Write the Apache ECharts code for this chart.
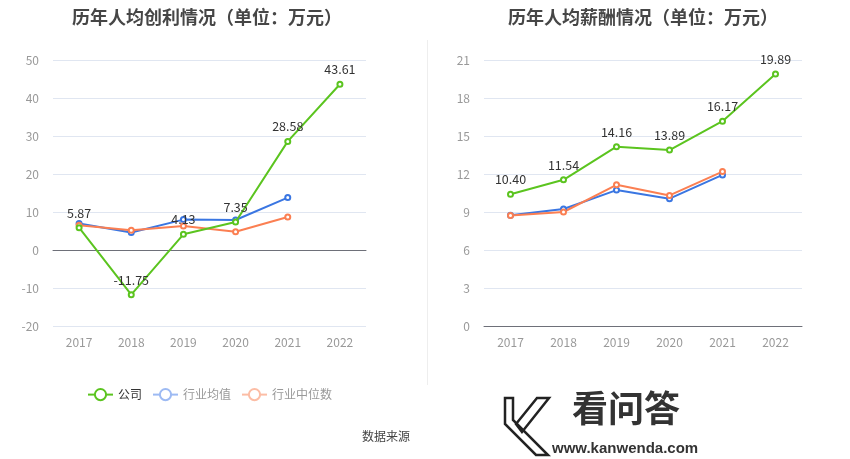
<!DOCTYPE html>
<html><head><meta charset="utf-8">
<script src="https://cdn.jsdelivr.net/npm/echarts@6/dist/echarts.min.js"></script>
<style>html,body{margin:0;padding:0;background:#fff}#c{width:850px;height:459px}</style>
</head><body><div id="c"></div>
<script>
var years = ['2017','2018','2019','2020','2021','2022'];
var profitCompany = [5.87, -11.75, 4.13, 7.35, 28.58, 43.61];
var profitIndAvg = [7.0, 4.6, 8.0, 7.9, 13.8];
var profitIndMed = [6.5, 5.2, 6.3, 4.8, 8.7];
var salaryCompany = [10.40, 11.54, 14.16, 13.89, 16.17, 19.89];
var salaryIndAvg = [8.75, 9.24, 10.73, 10.05, 11.93];
var salaryIndMed = [8.72, 9.00, 11.15, 10.31, 12.19];
var names = ['公司', '行业均值', '行业中位数'];

var FONT = '"Noto Sans CJK SC", "Noto Sans", sans-serif';
var GREEN = '#5bc41f', BLUE = '#3a76e2', ORANGE = '#fb7f52';

function line(name, data, color, xi, withLabel) {
  return {
    name: name, type: 'line', xAxisIndex: xi, yAxisIndex: xi, data: data,
    symbol: 'emptyCircle', symbolSize: 5, z: withLabel ? 3 : 2,
    lineStyle: {color: color, width: 2}, itemStyle: {color: color, borderWidth: 2},
    label: withLabel ? {show: true, position: 'top', color: '#333', fontSize: 12.5, fontFamily: FONT,
      formatter: function(p){ return p.value.toFixed(2); }} : {show: false},
    animation: false
  };
}
function xAx(gi) {
  return {type: 'category', gridIndex: gi, data: years, boundaryGap: true,
    axisLine: {lineStyle: {color: '#6e7079'}}, axisTick: {alignWithLabel: true, lineStyle: {color: '#6e7079'}},
    axisLabel: {color: '#999', fontSize: 12, fontFamily: FONT, margin: 10}};
}
function yAx(gi, min, max, itv) {
  return {type: 'value', gridIndex: gi, min: min, max: max, interval: itv,
    axisLine: {show: false}, axisTick: {show: false},
    splitLine: {lineStyle: {color: '#e0e6f1'}},
    axisLabel: {color: '#999', fontSize: 12, fontFamily: FONT, margin: 14}};
}
var chart = echarts.init(document.getElementById('c'), null, {renderer: 'canvas'});
chart.setOption({
  animation: false,
  title: [
    {text: '历年人均创利情况（单位：万元）', left: 202, top: 3, textAlign: 'center',
      textStyle: {fontSize: 18, fontWeight: 'bold', color: '#464646', fontFamily: FONT}},
    {text: '历年人均薪酬情况（单位：万元）', left: 638, top: 3, textAlign: 'center',
      textStyle: {fontSize: 18, fontWeight: 'bold', color: '#464646', fontFamily: FONT}}
  ],
  legend: {
    left: 82, top: 383, itemWidth: 25, itemHeight: 14, itemGap: 10,
    textStyle: {fontSize: 12, fontFamily: FONT},
    data: [
      {name: names[0], textStyle: {color: '#333'}},
      {name: names[1], textStyle: {color: '#999'}, itemStyle: {color: '#9dbaf3', borderColor: '#9dbaf3'}, lineStyle: {color: '#9dbaf3'}},
      {name: names[2], textStyle: {color: '#999'}, itemStyle: {color: '#fcbda5', borderColor: '#fcbda5'}, lineStyle: {color: '#fcbda5'}}
    ]
  },
  grid: [
    {left: 53, right: 484, top: 60, bottom: 133},
    {left: 484, right: 48, top: 60, bottom: 133}
  ],
  xAxis: [xAx(0), xAx(1)],
  yAxis: [yAx(0, -20, 50, 10), yAx(1, 0, 21, 3)],
  series: [
    line(names[1], profitIndAvg, BLUE, 0, false),
    line(names[2], profitIndMed, ORANGE, 0, false),
    line(names[0], profitCompany, GREEN, 0, true),
    line(names[1], salaryIndAvg, BLUE, 1, false),
    line(names[2], salaryIndMed, ORANGE, 1, false),
    line(names[0], salaryCompany, GREEN, 1, true)
  ],
  graphic: [
    {type: 'line', shape: {x1: 427.5, y1: 40, x2: 427.5, y2: 385}, style: {stroke: '#eeeeee', lineWidth: 1}, silent: true},
    {type: 'text', left: 362, top: 430, style: {text: '数据来源', fill: '#444', fontSize: 12, fontFamily: FONT}},
    {type: 'polygon', shape: {points: [[505,398],[513,398],[513,420],[548,455],[536,455],[505,424]]}, style: {fill: 'none', stroke: '#222', lineWidth: 2.5}},
    {type: 'polygon', shape: {points: [[537,398],[549,398],[522,432],[516,424]]}, style: {fill: 'none', stroke: '#222', lineWidth: 2.5}},
    {type: 'text', left: 572, top: 390, style: {text: '看问答', fill: '#333', fontSize: 36, fontWeight: 'bold', fontFamily: FONT}},
    {type: 'text', left: 552, top: 441, style: {text: 'www.kanwenda.com', fill: '#333', fontSize: 15, fontWeight: 'bold', fontFamily: '"Liberation Sans", Arial, sans-serif'}}
  ]
});
</script></body></html>
